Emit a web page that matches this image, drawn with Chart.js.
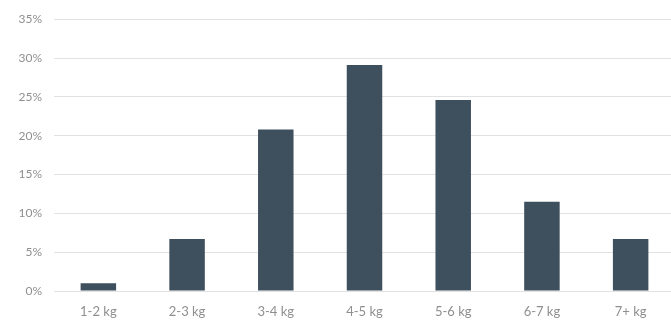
<!DOCTYPE html>
<html>
<head>
<meta charset="utf-8">
<script src="https://cdn.jsdelivr.net/npm/chart.js@4"></script>
<style>
  html, body { margin: 0; padding: 0; background: #fff; overflow: hidden; }
  #wrap { width: 675px; height: 321px; }
</style>
</head>
<body>
<div id="wrap"><canvas id="grafica"></canvas></div>
<script>
// Categorias de peso
var categorias = ['1-2 kg', '2-3 kg', '3-4 kg', '4-5 kg', '5-6 kg', '6-7 kg', '7+ kg'];
// Porcentajes
var porcentajes = [1.0, 6.7, 20.8, 29.1, 24.6, 11.5, 6.7];
// Marcas del eje y
var marcasY = [0, 5, 10, 15, 20, 25, 30, 35];

var ctx = document.getElementById('grafica').getContext('2d');

var config = {
  type: 'bar',
  data: {
    labels: categorias,
    datasets: [{
      data: porcentajes,
      backgroundColor: '#3e4f5d',
      barPercentage: 0.4,
      categoryPercentage: 1
    }]
  },
  options: {
    responsive: true,
    maintainAspectRatio: false,
    animation: false,
    layout: { padding: { top: 18, right: 0, left: 0, bottom: 0 } },
    plugins: {
      legend: { display: false },
      tooltip: { enabled: false }
    },
    scales: {
      x: {
        grid: { display: false },
        border: { display: false },
        ticks: {
          color: '#8f8f8f',
          font: { family: 'Lato', size: 13 },
          padding: 5
        },
        afterFit: function(axis) { axis.height = 30; }
      },
      y: {
        min: 0,
        max: 35,
        afterBuildTicks: function(axis) {
          axis.ticks = marcasY.map(function(v) { return { value: v }; });
        },
        grid: { color: '#e2e2e2', drawTicks: false },
        border: { display: false },
        ticks: {
          color: '#8f8f8f',
          font: { family: 'Lato', size: 12 },
          padding: 12,
          callback: function(v) { return v + '%'; }
        },
        afterFit: function(axis) { axis.width = 54; }
      }
    }
  }
};

var miGrafica = new Chart(ctx, config);
</script>
</body>
</html>
